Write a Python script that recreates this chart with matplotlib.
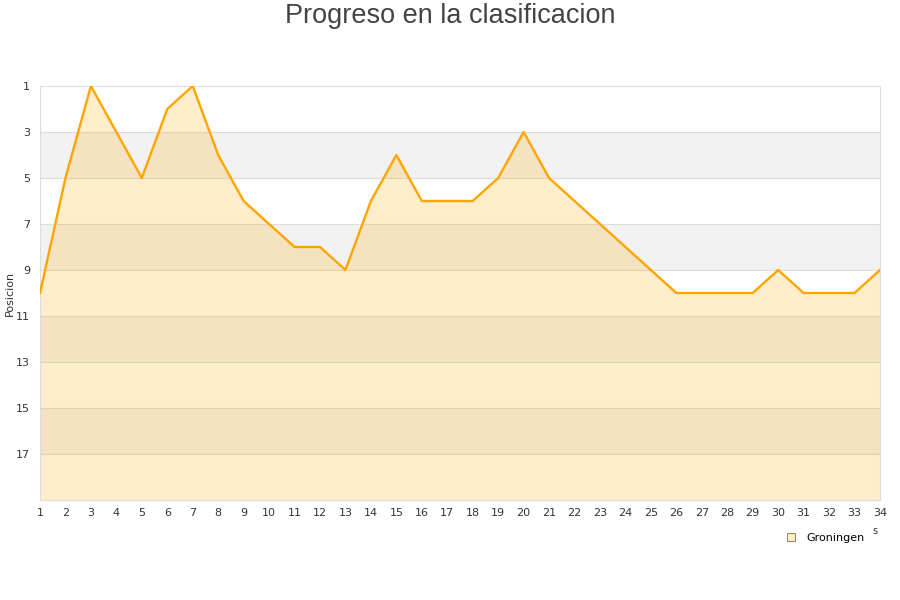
import matplotlib
matplotlib.use("Agg")
import matplotlib.pyplot as plt
from matplotlib.lines import Line2D

jornadas = list(range(1, 35))
posicion = [10, 5, 1, 3, 5, 2, 1, 4, 6, 7, 8, 8, 9, 6, 4, 6, 6, 6, 5, 3,
            5, 6, 7, 8, 9, 10, 10, 10, 10, 9, 10, 10, 10, 9]
y_ticks = [1, 3, 5, 7, 9, 11, 13, 15, 17]
equipo = "Groningen"

fig = plt.figure(figsize=(9, 6), dpi=100)
ax = fig.add_axes([40/900, 100/600, 840/900, 414/600])

# bandas alternas de fondo
for lo in range(3, 19, 4):
    ax.axhspan(lo, lo + 2, color="#f2f2f2", zorder=0, lw=0)
for y in y_ticks:
    ax.axhline(y, color="#dddddd", lw=0.8, zorder=1)

ax.fill_between(jornadas, posicion, 19, color="#ffa500", alpha=0.2, lw=0, zorder=2)
ax.plot(jornadas, posicion, color="#ffa500", lw=1.7, zorder=3)

ax.set_xlim(1, 34)
ax.set_ylim(19, 1)
ax.set_xticks(jornadas)
ax.set_yticks(y_ticks)
ax.tick_params(length=0, labelsize=8, colors="#333333", pad=6)
ax.tick_params(axis="y", pad=7)
for s in ax.spines.values():
    s.set_color("#dddddd")
    s.set_linewidth(0.8)
ax.spines["top"].set_visible(False)

ax.set_ylabel("Posicion", fontsize=8, color="#333333")
ax.yaxis.set_label_coords(-25/840, 0.5)
fig.text(0.5, 1 - 16/600, "Progreso en la clasificacion", ha="center", va="center",
         fontsize=19.5, color="#444444", family="Liberation Sans")

handle = Line2D([], [], marker="s", ls="none", markersize=6,
                markerfacecolor="#feedcc", markeredgecolor="#a08050", markeredgewidth=0.7)
fig.legend([handle], [equipo], loc="center", bbox_to_anchor=(822/900, 1 - 538/600),
           frameon=False, fontsize=8, handletextpad=0.4)
fig.text(875/900, 1 - 531/600, "s", fontsize=7, color="#333333", ha="center", va="center")

fig.savefig("out.png", dpi=100)
